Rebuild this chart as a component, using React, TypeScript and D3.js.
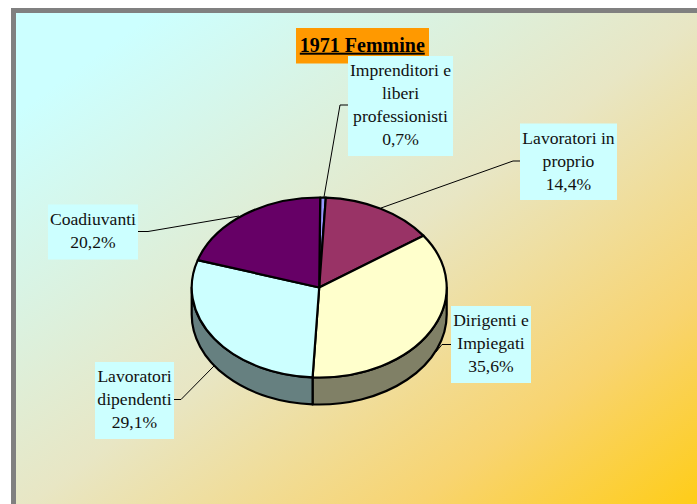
import React from "react";
import * as d3 from "d3";

const categories = ["Imprenditori e liberi professionisti", "Lavoratori in proprio", "Dirigenti e Impiegati", "Lavoratori dipendenti", "Coadiuvanti"];
const values = [0.7, 14.4, 35.6, 29.1, 20.2];
const topColors = ["#9999FF", "#993366", "#FFFFCC", "#CCFFFF", "#660066"];
const sideColors = ["#666699", "#662244", "#808066", "#668080", "#330033"];
const labelLines = [
  ["Imprenditori e", "liberi", "professionisti", "0,7%"],
  ["Lavoratori in", "proprio", "14,4%"],
  ["Dirigenti e", "Impiegati", "35,6%"],
  ["Lavoratori", "dipendenti", "29,1%"],
  ["Coadiuvanti", "20,2%"],
];
const labelBoxes = [
  { x: 348, y: 56, w: 105, h: 100 },
  { x: 520, y: 123.5, w: 97, h: 76.5 },
  { x: 451, y: 306, w: 80, h: 77 },
  { x: 95, y: 362, w: 79, h: 77 },
  { x: 48, y: 204.5, w: 90, h: 55 },
];
const leaders = [
  [[348, 105], [340, 105], [324, 197]],
  [[520, 161], [513, 161], [381, 208]],
  [[451, 344.5], [442, 344.5], [436, 352]],
  [[174, 399.5], [181, 399.5], [214, 366]],
  [[138, 231.5], [148, 231.5], [239, 216]],
];

const cx = 319.2, cy = 287.5, rx = 127.5, ry = 90, depth = 27;
const FONT = "'Liberation Serif','Times New Roman',serif";

const pt = (a: number, dy = 0): [number, number] => [cx + rx * Math.sin(a), cy + dy - ry * Math.cos(a)];

function topPath(a0: number, a1: number) {
  const p0 = pt(a0), p1 = pt(a1);
  const large = a1 - a0 > Math.PI ? 1 : 0;
  return `M${cx},${cy}L${p0[0]},${p0[1]}A${rx},${ry} 0 ${large} 1 ${p1[0]},${p1[1]}Z`;
}
function sidePath(a0: number, a1: number) {
  const s = Math.max(a0, Math.PI / 2), e = Math.min(a1, (3 * Math.PI) / 2);
  if (e <= s) return null;
  const p0 = pt(s), p1 = pt(e), q1 = pt(e, depth), q0 = pt(s, depth);
  return `M${p0[0]},${p0[1]}A${rx},${ry} 0 0 1 ${p1[0]},${p1[1]}L${q1[0]},${q1[1]}A${rx},${ry} 0 0 0 ${q0[0]},${q0[1]}Z`;
}

export default function App() {
  const start = 0.008;
  const arcs = d3.pie<number>().sort(null).startAngle(start).endAngle(2 * Math.PI + start)(values);
  const line = d3.line();
  return (
    <svg width={697} height={504} style={{ position: "absolute", left: 0, top: 0, display: "block" }} fontFamily={FONT}>
      <defs>
        <linearGradient id="bg" x1={0} y1={0} x2={1} y2={1}>
          <stop offset="0" stopColor="#CCFFFF" />
          <stop offset="0.1" stopColor="#CCFFFF" />
          <stop offset="0.5" stopColor="#E8E6C4" />
          <stop offset="0.78" stopColor="#F8D470" />
          <stop offset="1" stopColor="#FFCC11" />
        </linearGradient>
      </defs>
      <rect width={697} height={504} fill="#fff" />
      <rect x={16} y={13} width={690} height={500} fill="url(#bg)" />
      <rect x={13.5} y={10.5} width={700} height={510} fill="none" stroke="#808080" strokeWidth={5} />
      <rect x={296} y={28} width={133} height={35.5} fill="#FF9900" />
      <text x={362.3} y={51.7} textAnchor="middle" fontSize={20} fontWeight="bold" textDecoration="underline" fill="#000">1971 Femmine</text>
      {leaders.map((l, i) => (
        <path key={i} d={line(l as [number, number][]) as string} fill="none" stroke="#000" strokeWidth={1} />
      ))}
      {arcs.map((d, i) => {
        const p = sidePath(d.startAngle, d.endAngle);
        return p ? <path key={i} d={p} fill={sideColors[i]} stroke="#000" strokeWidth={2.2} strokeLinejoin="round" /> : null;
      })}
      {arcs.map((d, i) => (
        <path key={i} d={topPath(d.startAngle, d.endAngle)} fill={topColors[i]} stroke="#000" strokeWidth={2.2} strokeLinejoin="round" />
      ))}
      {labelBoxes.map((b, i) => (
        <g key={categories[i]}>
          <rect x={b.x} y={b.y} width={b.w} height={b.h} fill="#CCFFFF" />
          {labelLines[i].map((t, j) => (
            <text key={j} x={b.x + b.w / 2} y={b.y + 20.3 + j * 22.9} textAnchor="middle" fontSize={17.6} fill="#111">{t}</text>
          ))}
        </g>
      ))}
    </svg>
  );
}
